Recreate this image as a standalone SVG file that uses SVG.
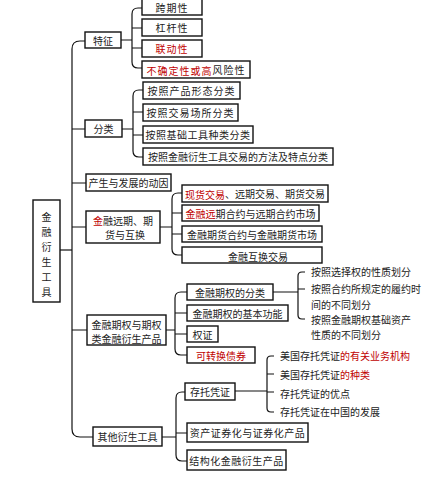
<svg xmlns="http://www.w3.org/2000/svg" width="445" height="481" viewBox="0 0 445 481">
<style>
.b{fill:#fff;stroke:#111;stroke-width:1.4}
.t{font-family:"Noto Sans CJK SC","Noto Sans",sans-serif;font-size:10px;fill:#222;dominant-baseline:central}
.c{text-anchor:middle}
.r{fill:#c00000}
.k{fill:none;stroke:#111;stroke-width:1.2}
</style>
<rect width="445" height="481" fill="#fff"/>
<g id="connectors">
<path class="k" d="M60,250 H72"/>
<path class="k" d="M85,41 H80 Q72,41 72,49 V429 Q72,437 80,437 H93"/>
<path class="k" d="M72,129 H85 M72,183 H86 M72,227 H86 M72,330 H87"/>
<path class="k" d="M121,40 H132 M142,8 H138 Q132,8 132,14 V62 Q132,68 138,68 H142 M132,28 H142 M132,48 H142"/>
<path class="k" d="M122,129 H133 M143,90 H139 Q133,90 133,96 V151 Q133,157 139,157 H143 M133,112 H143 M133,135 H143"/>
<path class="k" d="M160,227 H172 M182,193 H178 Q172,193 172,199 V249 Q172,255 178,255 H182 M172,213 H182 M172,234 H182"/>
<path class="k" d="M166,330 H175 M187,292 H181 Q175,292 175,298 V349 Q175,355 181,355 H187 M175,313 H187 M175,334 H187"/>
<path class="k" d="M273,292 H298 M305,272 H302 Q298,272 298,276 V315 Q298,319 302,319 H305 M298,289 H305"/>
<path class="k" d="M162,437 H176 M185,392 H182 Q176,392 176,398 V455 Q176,461 182,461 H187 M176,433 H187"/>
<path class="k" d="M235,391 H267 M274,356 H271 Q267,356 267,360 V408 Q267,412 271,412 H274 M267,374 H274 M267,392 H274"/>
</g>
<g id="root">
<rect class="b" x="33" y="200" width="27" height="102"/>
<text class="t c" x="46.5" y="216">金</text>
<text class="t c" x="46.5" y="231">融</text>
<text class="t c" x="46.5" y="246">衍</text>
<text class="t c" x="46.5" y="261">生</text>
<text class="t c" x="46.5" y="276">工</text>
<text class="t c" x="46.5" y="291">具</text>
</g>
<g id="n-tezheng"><rect class="b" x="85" y="32" width="36" height="16"/><text class="t c" x="103" y="40">特征</text></g>
<g id="n-kuaqi"><rect class="b" x="142" y="-2" width="60" height="17"/><text class="t c" x="172" y="7" style="letter-spacing:1px">跨期性</text></g>
<g id="n-ganggan"><rect class="b" x="142" y="19" width="60" height="17"/><text class="t c" x="172" y="27.5" style="letter-spacing:1px">杠杆性</text></g>
<g id="n-liandong"><rect class="b" x="142" y="40" width="60" height="17"/><text class="t c r" x="172" y="48.5" style="letter-spacing:1px">联动性</text></g>
<g id="n-buqueding"><rect class="b" x="142" y="61" width="108" height="17"/><text class="t c" x="196" y="69.5" style="letter-spacing:1px"><tspan class="r">不确定性或高</tspan>风险性</text></g>
<g id="n-fenlei"><rect class="b" x="85" y="120" width="37" height="17"/><text class="t c" x="103.5" y="128.5">分类</text></g>
<g id="n-f1"><rect class="b" x="143" y="82" width="97" height="17"/><text class="t c" x="191.5" y="90.5" style="letter-spacing:1px">按照产品形态分类</text></g>
<g id="n-f2"><rect class="b" x="143" y="104" width="95" height="17"/><text class="t c" x="190.5" y="112.5" style="letter-spacing:1px">按照交易场所分类</text></g>
<g id="n-f3"><rect class="b" x="143" y="126" width="110" height="17"/><text class="t c" x="198" y="134.5" style="letter-spacing:0.5px">按照基础工具种类分类</text></g>
<g id="n-f4"><rect class="b" x="143" y="148" width="190" height="17"/><text class="t c" x="238" y="156.5">按照金融衍生工具交易的方法及特点分类</text></g>
<g id="n-dongyin"><rect class="b" x="86" y="174" width="85" height="17"/><text class="t c" x="128.5" y="182.5">产生与发展的动因</text></g>
<g id="n-yuanqi"><rect class="b" x="86" y="211" width="74" height="32"/><text class="t c" x="123" y="220"><tspan class="r">金</tspan>融远期、期</text><text class="t c" x="125" y="234">货与互换</text></g>
<g id="n-y1"><rect class="b" x="182" y="185" width="146" height="17"/><text class="t c" x="255" y="193.5"><tspan class="r">现货交易</tspan>、远期交易、期货交易</text></g>
<g id="n-y2"><rect class="b" x="182" y="205" width="137" height="16"/><text class="t c" x="250.5" y="213"><tspan class="r">金融远</tspan>期合约与远期合约市场</text></g>
<g id="n-y3"><rect class="b" x="182" y="226" width="140" height="16"/><text class="t c" x="252" y="234">金融期货合约与金融期货市场</text></g>
<g id="n-y4"><rect class="b" x="182" y="247" width="140" height="16"/><text class="t c" x="258" y="256">金融互换交易</text></g>
<g id="n-qiquan"><rect class="b" x="87" y="315" width="79" height="30"/><text class="t c" x="126.5" y="324">金融期权与期权</text><text class="t c" x="126.5" y="338">类金融衍生产品</text></g>
<g id="n-q1"><rect class="b" x="187" y="284" width="86" height="16"/><text class="t c" x="230" y="292">金融期权的分类</text></g>
<g id="n-q2"><rect class="b" x="187" y="305" width="101" height="16"/><text class="t c" x="237.5" y="313">金融期权的基本功能</text></g>
<g id="n-q3"><rect class="b" x="187" y="326" width="31" height="16"/><text class="t c" x="202.5" y="334">权证</text></g>
<g id="n-q4"><rect class="b" x="187" y="347" width="68" height="16"/><text class="t c r" x="221" y="355">可转换债券</text></g>
<g id="n-q1-items">
<text class="t" x="311" y="271">按照选择权的性质划分</text>
<text class="t" x="311" y="288">按照合约所规定的履约时</text>
<text class="t" x="311" y="304">间的不同划分</text>
<text class="t" x="311" y="319">按照金融期权基础资产</text>
<text class="t" x="311" y="334">性质的不同划分</text>
</g>
<g id="n-qita"><rect class="b" x="93" y="427" width="69" height="19"/><text class="t c" x="127.5" y="436.5">其他衍生工具</text></g>
<g id="n-o1"><rect class="b" x="185" y="383" width="50" height="17"/><text class="t c" x="210" y="391.5">存托凭证</text></g>
<g id="n-o2"><rect class="b" x="187" y="423" width="121" height="19"/><text class="t c" x="247.5" y="432.5" style="letter-spacing:0.5px">资产证券化与证券化产品</text></g>
<g id="n-o3"><rect class="b" x="187" y="450" width="99" height="20"/><text class="t c" x="236.5" y="460" style="letter-spacing:0.5px">结构化金融衍生产品</text></g>
<g id="n-o1-items">
<text class="t" x="280" y="355">美国存托凭证<tspan class="r">的有关业务机构</tspan></text>
<text class="t" x="280" y="374">美国存托凭证<tspan class="r">的种类</tspan></text>
<text class="t" x="280" y="393">存托凭证的优点</text>
<text class="t" x="280" y="411">存托凭证在中国的发展</text>
</g>
</svg>
